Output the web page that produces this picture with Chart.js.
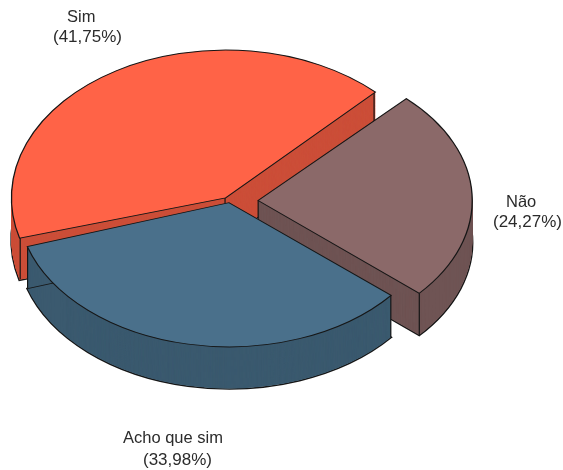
<!DOCTYPE html>
<html>
<head>
<meta charset="utf-8">
<style>html,body{margin:0;padding:0;background:#fff}canvas{display:block}</style>
<script src="https://cdn.jsdelivr.net/npm/chart.js@4"></script>
</head>
<body>
<canvas id="c" width="563" height="470"></canvas>
<script>
const categories = ['Sim', 'Não', 'Acho que sim'];
const shares = [41.75, 24.27, 33.98];
const topColors = ['#FF6347', '#8B6969', '#4A708B'];
const wallColors = ['#CC4F39', '#6F5454', '#3B5A6F'];
const explode = [10, 128, 10];
const labelLines = [['Sim', '(41,75%)'], ['Não', '(24,27%)'], ['Acho que sim', '(33,98%)']];
const labelX = [[67, 53], [506, 493], [123, 143]];
const labelY = [[17, 37], [202, 222], [438, 460]];

const pieCenter = { x: 226, y: 201 };
const nudgeX = [1, 0, 3.5];
const nudgeY = [-1.7, 0.4, 0];
const stretchX = [1, 1.005, 0.992];
const squashY = [0.69, 0.662, 0.676];
const turnDeg = [0.6, 0, -1.2];
const traceBackEdge = [false, false, true];
const depth = 42;
const edge = '#161616';

function shiftOf(el, i) {
  const o = explode[i] / 4;
  return o + o * (1 - Math.sin(Math.min(Math.PI, el.circumference)));
}
function variant(el, opts) {
  const options = Object.assign(Object.create(el.options), opts);
  return Object.create(el, { options: { value: options, writable: true } });
}
const view3d = {
  id: 'view3d',
  beforeDatasetDraw(chart) {
    const ctx = chart.ctx;
    chart.getDatasetMeta(0).data.forEach((el, i) => {
      const mid = (el.startAngle + el.endAngle) / 2;
      const s = shiftOf(el, i);
      const ox = el.x + Math.cos(mid) * s;
      const oy = el.y + Math.sin(mid) * s;
      const dy = depth / squashY[i];
      const turn = turnDeg[i] * Math.PI / 180;
      const a0 = el.startAngle + turn;
      const a1 = el.endAngle + turn;

      ctx.save();
      ctx.translate(pieCenter.x + nudgeX[i], pieCenter.y + nudgeY[i]);
      ctx.scale(stretchX[i], squashY[i]);
      ctx.translate(-el.x, -el.y);

      const spun = fn => {
        ctx.save();
        ctx.translate(ox, oy);
        ctx.rotate(turn);
        ctx.translate(-ox, -oy);
        fn();
        ctx.restore();
      };

      ctx.save();
      ctx.translate(0, dy);
      spun(() => variant(el, { backgroundColor: 'rgba(0,0,0,0)', borderWidth: 2.4, borderColor: edge }).draw(ctx));
      ctx.restore();

      const fillOnly = variant(el, { backgroundColor: wallColors[i], borderWidth: 0 });
      for (let d = dy - 0.5; d >= 0; d -= 0.5) {
        ctx.save();
        ctx.translate(0, d);
        spun(() => fillOnly.draw(ctx));
        ctx.restore();
      }

      const apex = [ox, oy];
      const startPt = [ox + Math.cos(a0) * el.outerRadius, oy + Math.sin(a0) * el.outerRadius];
      const endPt = [ox + Math.cos(a1) * el.outerRadius, oy + Math.sin(a1) * el.outerRadius];
      ctx.strokeStyle = edge;
      ctx.lineWidth = 1.2;
      [apex, startPt, endPt].forEach(p => {
        ctx.beginPath();
        ctx.moveTo(p[0], p[1]);
        ctx.lineTo(p[0], p[1] + dy);
        ctx.stroke();
      });
      if (traceBackEdge[i]) {
        ctx.beginPath();
        ctx.moveTo(endPt[0], endPt[1] + dy);
        ctx.lineTo(apex[0], apex[1] + dy);
        ctx.stroke();
      }
      spun(() => el.draw(ctx));
      ctx.restore();
    });
    return false;
  },
  afterDatasetsDraw(chart) {
    const ctx = chart.ctx;
    ctx.save();
    ctx.fillStyle = '#2b2b2b';
    ctx.textAlign = 'left';
    ctx.textBaseline = 'middle';
    labelLines.forEach((lines, i) => {
      lines.forEach((t, j) => {
        ctx.font = (j === 0 ? '16.5px' : '17px') + ' "Liberation Sans", Arial, sans-serif';
        ctx.fillText(t, labelX[i][j], labelY[i][j]);
      });
    });
    ctx.restore();
  }
};

new Chart(document.getElementById('c'), {
  type: 'pie',
  data: {
    labels: categories,
    datasets: [{
      data: shares,
      backgroundColor: topColors,
      borderColor: edge,
      borderWidth: 1.3,
      borderJoinStyle: 'miter',
      offset: explode
    }]
  },
  options: {
    responsive: false,
    animation: false,
    rotation: 253.5,
    radius: 213,
    layout: { padding: 0 },
    plugins: { legend: { display: false }, tooltip: { enabled: false }, title: { display: false } }
  },
  plugins: [view3d]
});
</script>
</body>
</html>
